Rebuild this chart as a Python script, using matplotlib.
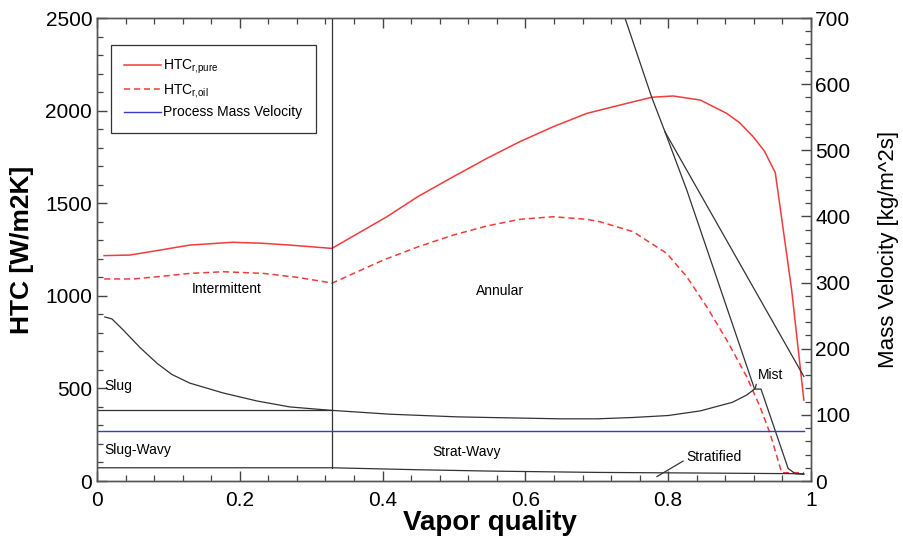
import matplotlib
matplotlib.use('Agg')
import matplotlib.pyplot as plt
from matplotlib.ticker import MultipleLocator, FixedLocator, FixedFormatter

plt.rcParams['font.family'] = ['Liberation Sans', 'DejaVu Sans']
plt.rcParams['mathtext.fontset'] = 'custom'
plt.rcParams['mathtext.rm'] = 'Liberation Sans'

# --- DATA ---
# heat transfer coefficient, left axis [W/m2K]
x_pure = [0.01, 0.046, 0.09, 0.13, 0.19, 0.23, 0.27, 0.329, 0.406, 0.45, 0.499,
          0.546, 0.592, 0.639, 0.686, 0.742, 0.777, 0.807, 0.845, 0.882, 0.9,
          0.919, 0.935, 0.95, 0.973, 0.99]
htc_pure = [1217, 1220, 1248, 1274, 1289, 1284, 1274, 1256, 1427, 1537, 1643,
            1742, 1832, 1913, 1985, 2039, 2072, 2079, 2057, 1985, 1935,
            1859, 1780, 1665, 1030, 437]

x_oil = [0.01, 0.051, 0.09, 0.13, 0.177, 0.233, 0.28, 0.326, 0.329, 0.401, 0.45,
         0.499, 0.546, 0.592, 0.639, 0.686, 0.7045, 0.751, 0.798, 0.826, 0.854,
         0.882, 0.91, 0.9286, 0.9426, 0.959, 0.99]
htc_oil = [1091, 1091, 1105, 1121, 1130, 1121, 1100, 1071, 1068, 1193, 1265,
           1328, 1377, 1413, 1427, 1413, 1400, 1346, 1229, 1103, 941,
           761, 563, 401, 258, 45, 45]

# flow pattern map, right axis [kg/m^2s]
x_dry = [0.011, 0.021, 0.037, 0.06, 0.084, 0.105, 0.13, 0.177, 0.224, 0.27,
         0.326, 0.41, 0.504, 0.55, 0.6, 0.65, 0.7, 0.75, 0.8, 0.845, 0.89,
         0.91, 0.921]
g_dry = [248, 245, 228, 202, 178, 161, 148, 133, 121, 112,
         107, 101, 97, 96, 95, 94, 94, 96, 99, 106, 119,
         130, 139]

x_mist = [0.7395, 0.777, 0.7955, 0.826, 0.921, 0.93, 0.968, 0.978, 0.99]
g_mist = [700, 580, 528, 440, 139, 139, 19, 11, 10]

x_mist2 = [0.7955, 0.99]
g_mist2 = [528, 158]

x_strat = [0.0, 0.329, 0.45, 0.55, 0.7, 0.85, 0.99]
g_strat = [20, 20, 17, 15, 13, 12, 11]

x_slug = [0.0, 0.329]
g_slug = [107, 107]

x_ia = [0.329, 0.329]
g_ia = [20, 700]

x_process = [0.0, 0.99]
g_process = [75, 75]

x_ticks = [0, 0.2, 0.4, 0.6, 0.8, 1.0]
x_ticklabels = ['0', '0.2', '0.4', '0.6', '0.8', '1']

RED = '#f03c3c'
BLUE = '#3a3ac8'
LINE = '#333333'
TICK = '#444444'

fig = plt.figure(figsize=(9.04, 5.41), dpi=100)
ax = fig.add_axes([0.1073, 0.1109, 0.7898, 0.8558])
ax2 = ax.twinx()

# HTC curves
l1, = ax.plot(x_pure, htc_pure, color=RED, lw=1.1, label=r'HTC$_{\mathregular{r{,}pure}}$')
l2, = ax.plot(x_oil, htc_oil, color=RED, lw=1.1, ls=(0, (4, 2.5)),
              label=r'HTC$_{\mathregular{r{,}oil}}$')

# flow map
for xs, gs in [(x_dry, g_dry), (x_mist, g_mist), (x_mist2, g_mist2),
               (x_strat, g_strat), (x_slug, g_slug), (x_ia, g_ia)]:
    ax2.plot(xs, gs, color=LINE, lw=0.9)
l3, = ax2.plot(x_process, g_process, color=BLUE, lw=1.0, label='Process Mass Velocity')

ax.set_xlim(0, 1)
ax.set_ylim(0, 2500)
ax2.set_ylim(0, 700)

ax.xaxis.set_major_locator(FixedLocator(x_ticks))
ax.xaxis.set_major_formatter(FixedFormatter(x_ticklabels))
ax.xaxis.set_minor_locator(MultipleLocator(0.04))
ax.yaxis.set_major_locator(MultipleLocator(500))
ax.yaxis.set_minor_locator(MultipleLocator(100))
ax2.yaxis.set_major_locator(MultipleLocator(100))
ax2.yaxis.set_minor_locator(MultipleLocator(20))

for a in (ax, ax2):
    for s in a.spines.values():
        s.set_color('#555555')
        s.set_linewidth(1.0)
ax.tick_params(axis='both', which='both', direction='in', top=True, right=False,
               color=TICK, labelcolor='black', labelsize=15)
ax.tick_params(axis='both', which='major', length=7, width=1.0)
ax.tick_params(axis='both', which='minor', length=4, width=0.9)
ax.tick_params(axis='x', pad=7)
ax2.tick_params(axis='y', which='both', direction='in', color=TICK, labelcolor='black',
                labelsize=15)
ax2.tick_params(axis='y', which='major', length=7, width=1.0, pad=3)
ax2.tick_params(axis='y', which='minor', length=4, width=0.9)

ax.set_xlabel('Vapor quality', fontsize=20, fontweight='bold')
ax.xaxis.set_label_coords(0.55, -0.063)
ax.set_ylabel('HTC [W/m2K]', fontsize=19, fontweight='bold', labelpad=8)
ax2.set_ylabel('Mass Velocity [kg/m^2s]', fontsize=16, labelpad=20)

# region labels (left axis coordinates)
ax.text(0.182, 1037, 'Intermittent', fontsize=10, ha='center', va='center')
ax.text(0.564, 1026, 'Annular', fontsize=10, ha='center', va='center')
ax.text(0.01, 513, 'Slug', fontsize=10, ha='left', va='center')
ax.text(0.01, 167, 'Slug-Wavy', fontsize=10, ha='left', va='center')
ax.text(0.517, 157, 'Strat-Wavy', fontsize=10, ha='center', va='center')
ax2.annotate('Stratified', xy=(0.784, 6.5), xytext=(0.825, 37), fontsize=10,
             ha='left', va='center',
             arrowprops=dict(arrowstyle='-', color=LINE, lw=0.9, shrinkA=0, shrinkB=0,
                             relpos=(0, 0.3)))
ax2.annotate('Mist', xy=(0.922, 140), xytext=(0.925, 161), fontsize=10,
             ha='left', va='center',
             arrowprops=dict(arrowstyle='-', color=LINE, lw=0.9, shrinkA=0, shrinkB=0,
                             relpos=(0, 0.2)))

leg = ax2.legend(handles=[l1, l2, l3], loc='upper left', bbox_to_anchor=(0.019, 0.942),
                 borderaxespad=0, fontsize=10, frameon=True, fancybox=False,
                 handlelength=2.7, handletextpad=0.15, borderpad=0.95, labelspacing=0.4)
leg.get_frame().set_edgecolor('black')
leg.get_frame().set_linewidth(0.9)

fig.savefig('out.png', dpi=100)
